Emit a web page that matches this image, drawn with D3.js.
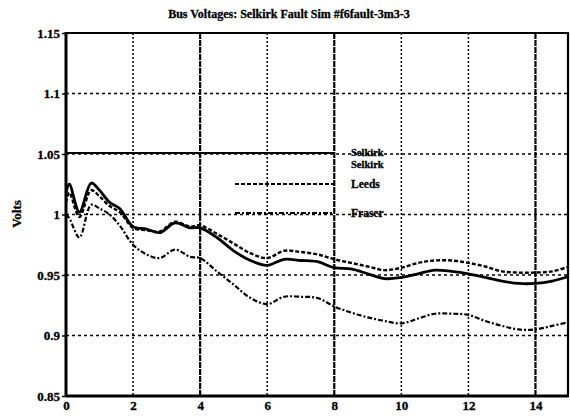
<!DOCTYPE html>
<html>
<head>
<meta charset="utf-8">
<script src="https://cdn.jsdelivr.net/npm/d3@7"></script>
<style>
  body { margin: 0; background: #fff; }
  text { font-family: "Liberation Serif", "DejaVu Serif", serif; font-weight: bold; fill: #000; stroke: #000; stroke-width: 0.3px; }
</style>
</head>
<body>
<svg id="chart" width="570" height="417"></svg>
<script>
// Data
const times = [0, 0.1, 0.4, 0.75, 1.0, 1.3, 1.6, 2.0, 2.4, 2.8, 3.25, 3.7, 4.0, 4.5, 5.0, 5.5, 6.0, 6.5, 7.0, 7.5,
               8.0, 8.5, 9.0, 9.5, 10.0, 10.5, 11.0, 11.5, 12.0, 12.5, 13.0, 13.5, 14.0, 14.5, 15.0];
const selkirk = [1.018, 1.025, 1.002, 1.026, 1.020, 1.010, 1.005, 0.990, 0.988, 0.985, 0.993, 0.989, 0.989, 0.981, 0.970,
                 0.962, 0.958, 0.963, 0.962, 0.961, 0.956, 0.955, 0.951, 0.947, 0.948, 0.951, 0.954, 0.953, 0.951, 0.948,
                 0.945, 0.943, 0.943, 0.945, 0.949];
const leeds = [1.010, 1.018, 0.998, 1.020, 1.015, 1.007, 1.002, 0.989, 0.987, 0.986, 0.994, 0.990, 0.991, 0.984, 0.976,
               0.968, 0.964, 0.970, 0.969, 0.967, 0.963, 0.960, 0.957, 0.954, 0.956, 0.960, 0.962, 0.962, 0.960, 0.957,
               0.953, 0.952, 0.952, 0.953, 0.957];
const fraser = [1.000, 0.997, 0.981, 1.008, 1.005, 1.000, 0.991, 0.975, 0.967, 0.964, 0.971, 0.965, 0.964, 0.953, 0.942,
                0.931, 0.926, 0.932, 0.932, 0.931, 0.924, 0.919, 0.915, 0.912, 0.910, 0.914, 0.918, 0.918, 0.917, 0.912,
                0.908, 0.905, 0.905, 0.908, 0.911];
const xTicks = [0, 2, 4, 6, 8, 10, 12, 14];
const yTicks = [0.85, 0.9, 0.95, 1, 1.05, 1.1, 1.15];
const legendNames = ["Selkirk", "Selkirk", "Leeds", "Fraser"];

const svg = d3.select("#chart");
const plotLeft = 66, plotRight = 569, plotTop = 33, plotBottom = 396;

const x = d3.scaleLinear().domain([0, 15]).range([plotLeft, plotRight]);
const y = d3.scaleLinear().domain([0.85, 1.15]).range([plotBottom, plotTop]);

// title
svg.append("text")
    .attr("x", 289).attr("y", 18)
    .attr("text-anchor", "middle")
    .style("font-size", "12px")
    .text("Bus Voltages: Selkirk Fault Sim #f6fault-3m3-3");

// y label
svg.append("text")
    .attr("transform", "translate(21,214) rotate(-90)")
    .attr("text-anchor", "middle")
    .style("font-size", "13px")
    .text("Volts");

// grid lines
svg.append("g").selectAll("line")
    .data(yTicks.slice(1, -1))
    .enter().append("line")
    .attr("x1", plotLeft).attr("x2", plotRight)
    .attr("y1", d => y(d)).attr("y2", d => y(d))
    .attr("stroke", "#000")
    .attr("stroke-width", 1.4)
    .attr("stroke-dasharray", "3,3");

svg.append("g").selectAll("line")
    .data(xTicks.slice(1))
    .enter().append("line")
    .attr("x1", d => x(d)).attr("x2", d => x(d))
    .attr("y1", plotTop).attr("y2", plotBottom)
    .attr("stroke", "#000")
    .attr("stroke-width", d => (d === 4 || d === 8 || d === 14) ? 2.2 : 1.5)
    .attr("stroke-dasharray", d => (d === 4 || d === 8 || d === 14) ? "6,1" : "2,2");

// axes
const xAxis = d3.axisBottom(x).tickValues(xTicks).tickSize(0).tickPadding(5).tickFormat(d3.format("d"));
const yAxis = d3.axisLeft(y).tickValues(yTicks).tickSize(4).tickPadding(2).tickFormat(d => d === 1 ? "1" : d3.format("")(d));

const gx = svg.append("g").attr("transform", `translate(0,${plotBottom})`).call(xAxis);
gx.select(".domain").remove();
gx.selectAll("text").style("font-size", "13px").style("font-family", "Liberation Serif");

const gy = svg.append("g").attr("transform", `translate(${plotLeft},0)`).call(yAxis);
gy.select(".domain").remove();
gy.selectAll("text").style("font-size", "13px").style("font-family", "Liberation Serif");
gy.selectAll("line").attr("stroke-width", 1.5);

// frame
svg.append("line").attr("x1", plotLeft).attr("x2", plotLeft).attr("y1", plotTop - 1).attr("y2", plotBottom + 1)
    .attr("stroke", "#000").attr("stroke-width", 3);
svg.append("line").attr("x1", plotLeft).attr("x2", plotRight).attr("y1", plotBottom).attr("y2", plotBottom)
    .attr("stroke", "#000").attr("stroke-width", 3);
svg.append("line").attr("x1", plotLeft).attr("x2", plotRight).attr("y1", plotTop).attr("y2", plotTop)
    .attr("stroke", "#000").attr("stroke-width", 2.2);
svg.append("line").attr("x1", plotRight - 1).attr("x2", plotRight - 1).attr("y1", plotTop).attr("y2", plotBottom)
    .attr("stroke", "#000").attr("stroke-width", 2.2);

// curves
const line = d3.line()
    .x((d, i) => x(times[i]))
    .y(d => y(d))
    .curve(d3.curveCatmullRom.alpha(0.5));

svg.append("path").datum(fraser).attr("d", line)
    .attr("fill", "none").attr("stroke", "#000").attr("stroke-width", 2.2)
    .attr("stroke-dasharray", "5,2,2,2");
svg.append("path").datum(leeds).attr("d", line)
    .attr("fill", "none").attr("stroke", "#000").attr("stroke-width", 2.4)
    .attr("stroke-dasharray", "4,2");
svg.append("path").datum(selkirk).attr("d", line)
    .attr("fill", "none").attr("stroke", "#000").attr("stroke-width", 2.8);

// legend
const legendY = [152, 164, 184, 213];
const legendDash = [null, null, "4,2", "5,2,2,2"];
legendNames.forEach((name, i) => {
    if (i !== 1) {
        svg.append("line")
            .attr("x1", i === 0 ? 66 : 235).attr("x2", 335)
            .attr("y1", i === 0 ? 153 : legendY[i]).attr("y2", i === 0 ? 153 : legendY[i])
            .attr("stroke", "#000").attr("stroke-width", i === 0 ? 2 : 1.8)
            .attr("stroke-dasharray", legendDash[i]);
    }
    svg.append("text")
        .attr("x", 351).attr("y", legendY[i] + 4)
        .style("font-size", i < 2 ? "10.5px" : "11.5px")
        .text(name);
});
</script>
</body>
</html>
